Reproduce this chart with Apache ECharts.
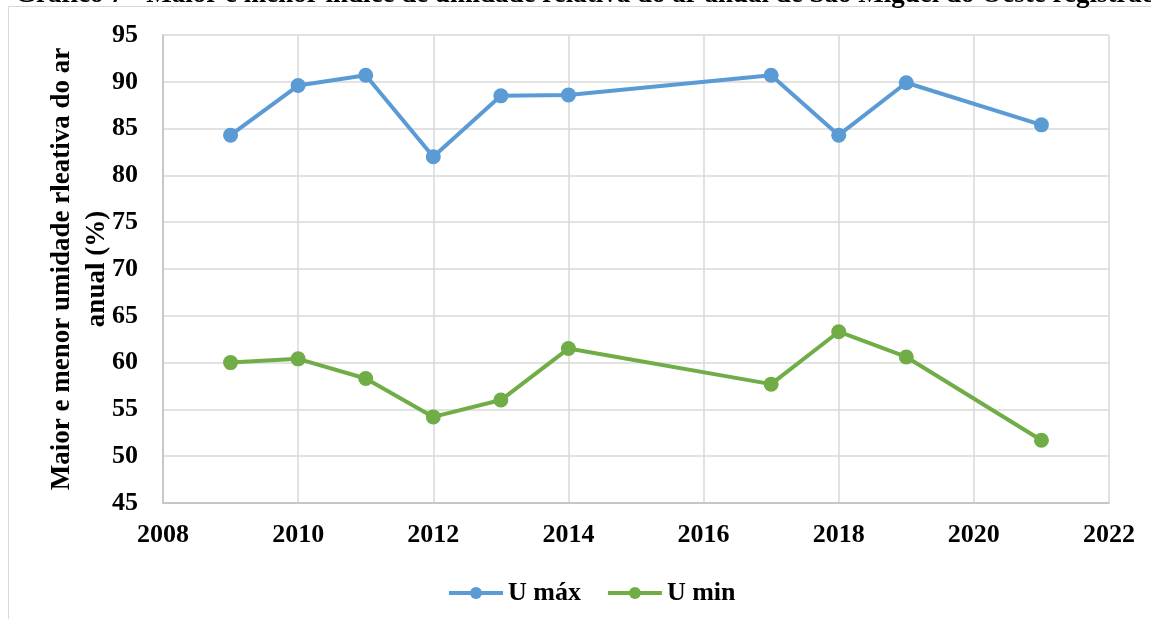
<!DOCTYPE html>
<html>
<head>
<meta charset="utf-8">
<script src="https://cdn.jsdelivr.net/npm/echarts@6/dist/echarts.min.js"></script>
<style>
  html, body { margin: 0; padding: 0; background: #fff; }
  #chart { width: 1151px; height: 619px; }
</style>
</head>
<body>
<div id="chart"></div>
<script>
// data
const years = [2009, 2010, 2011, 2012, 2013, 2014, 2017, 2018, 2019, 2021];
const uMax = [84.3, 89.6, 90.7, 82.0, 88.5, 88.6, 90.7, 84.3, 89.9, 85.4];
const uMin = [60.0, 60.4, 58.3, 54.2, 56.0, 61.5, 57.7, 63.3, 60.6, 51.7];

const blue = '#5B9BD5';
const green = '#70AD47';
const font = '"Liberation Serif", "Times New Roman", serif';

const chart = echarts.init(document.getElementById('chart'));

function pairs(vals) {
  return years.map((y, i) => [y, vals[i]]);
}

const option = {
  animation: false,
  backgroundColor: '#fff',
  textStyle: { fontFamily: font },
  title: {
    text: 'Gráfico 7 - Maior e menor índice de umidade relativa do ar anual de São Miguel do Oeste registrada',
    left: 10,
    top: -23,
    textStyle: { fontFamily: font, fontWeight: 'bold', fontSize: 27, color: '#000' }
  },
  graphic: [{
    type: 'rect',
    shape: { x: 8.5, y: 6.5, width: 1200, height: 700 },
    style: { fill: 'none', stroke: '#D9D9D9', lineWidth: 1 },
    silent: true
  }],
  legend: {
    top: 575,
    left: 442,
    itemWidth: 54,
    itemHeight: 15,
    itemGap: 25,
    lineStyle: { width: 4 },
    textStyle: { fontFamily: font, fontWeight: 'bold', fontSize: 26, color: '#000' },
    data: ['U máx', 'U min']
  },
  grid: { left: 163, right: 42, top: 35, bottom: 116 },
  xAxis: {
    type: 'value',
    min: 2008,
    max: 2022,
    interval: 2,
    axisLine: { lineStyle: { color: '#BFBFBF', width: 1.5 } },
    axisTick: { show: false },
    axisLabel: {
      margin: 19, fontFamily: font, fontWeight: 'bold', fontSize: 26, color: '#000',
      formatter: v => String(v)
    },
    splitLine: { show: true, lineStyle: { color: '#D9D9D9', width: 1.5 } }
  },
  yAxis: {
    type: 'value',
    min: 45,
    max: 95,
    interval: 5,
    name: 'Maior e menor umidade rleativa do ar\nanual (%)',
    nameLocation: 'middle',
    nameGap: 48,
    nameMoveOverlap: false,
    nameTextStyle: { fontFamily: font, fontWeight: 'bold', fontSize: 27, color: '#000', lineHeight: 35 },
    axisLine: { show: true, lineStyle: { color: '#BFBFBF', width: 1.5 } },
    axisTick: { show: false },
    axisLabel: { margin: 25, fontFamily: font, fontWeight: 'bold', fontSize: 26, color: '#000' },
    splitLine: { show: true, lineStyle: { color: '#D9D9D9', width: 1.5 } }
  },
  series: [
    {
      name: 'U máx',
      type: 'line',
      data: pairs(uMax),
      symbol: 'circle',
      symbolSize: 15,
      itemStyle: { color: blue },
      lineStyle: { color: blue, width: 4 }
    },
    {
      name: 'U min',
      type: 'line',
      data: pairs(uMin),
      symbol: 'circle',
      symbolSize: 15,
      itemStyle: { color: green },
      lineStyle: { color: green, width: 4 }
    }
  ]
};

chart.setOption(option);
</script>
</body>
</html>
